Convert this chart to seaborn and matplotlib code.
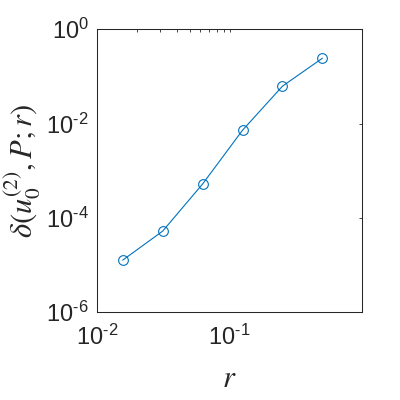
import numpy as np
import pandas as pd
import matplotlib
matplotlib.use('Agg')
import matplotlib.pyplot as plt
import seaborn as sns
from matplotlib.ticker import FixedLocator, FuncFormatter, NullLocator

# dados
r_vals = [1/64, 1/32, 1/16, 1/8, 1/4, 1/2]
delta_vals = [1.26e-5, 5.2e-5, 5.2e-4, 7.2e-3, 0.062, 0.243]

df = pd.DataFrame({'r': r_vals, 'delta': delta_vals})

sns.set_style('white')
plt.rcParams['font.family'] = ['Liberation Sans', 'DejaVu Sans']
plt.rcParams['mathtext.fontset'] = 'stix'

fig = plt.figure(figsize=(4, 4), dpi=100)
ax = fig.add_axes([0.2425, 0.22, 0.6633, 0.7068])

sns.lineplot(data=df, x='r', y='delta', ax=ax, color='#0072BD', lw=0.8,
             marker='o', markersize=7, markerfacecolor='none',
             markeredgecolor='#0072BD', markeredgewidth=0.8)

ax.set_xscale('log')
ax.set_yscale('log')
ax.set_xlim(0.01, 1.0)
ax.set_ylim(1e-6, 1)

def fmt(v, pos):
    e = int(round(np.log10(v)))
    return r'$\mathregular{10^{%s}}$' % (r'\text{-}%d' % -e if e < 0 else '%d' % e)

ax.xaxis.set_major_locator(FixedLocator([0.01, 0.1]))
ax.xaxis.set_minor_locator(FixedLocator([0.02, 0.03, 0.04, 0.05, 0.06, 0.07, 0.08, 0.09]))
ax.yaxis.set_major_locator(FixedLocator([1e-6, 1e-4, 1e-2, 1]))
ax.yaxis.set_minor_locator(NullLocator())
ax.xaxis.set_major_formatter(FuncFormatter(fmt))
ax.yaxis.set_major_formatter(FuncFormatter(fmt))

ax.tick_params(which='both', direction='in', top=True, right=True,
               labelsize=17, width=0.6, color='#262626', labelcolor='#262626')
ax.tick_params(axis='x', which='major', length=2.5, pad=9)
ax.tick_params(axis='y', which='major', length=2.5, pad=6)
ax.tick_params(which='minor', length=2.2)
for s in ax.spines.values():
    s.set_linewidth(0.75)
    s.set_color('#262626')

ax.set_xlabel('$r$', fontsize=22, labelpad=10)
ax.set_ylabel(r'$\delta(u_0^{(2)}, P; r)$', fontsize=22, labelpad=2)

fig.savefig('out.png', dpi=100, facecolor='white')
